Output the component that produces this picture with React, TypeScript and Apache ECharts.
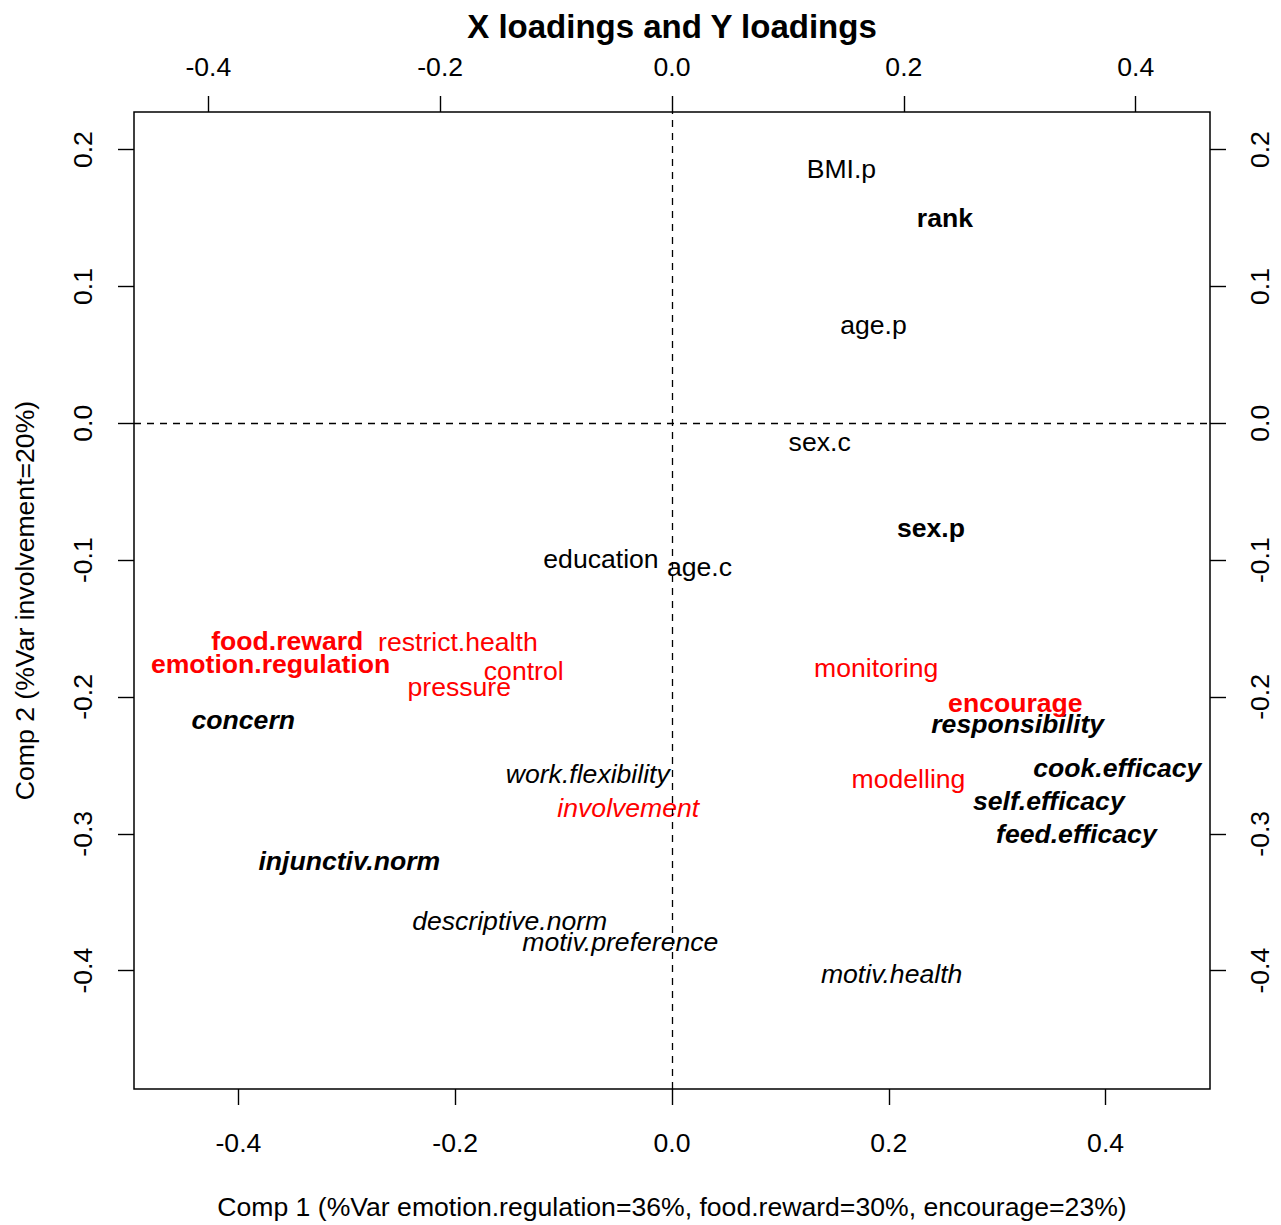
import React, { useEffect, useRef } from "react";
import * as echarts from "echarts";

// X-block variables (parent / child characteristics): loadings on components 1 and 2
const xVarNames = [
  "BMI.p", "rank", "age.p", "sex.c", "sex.p", "education", "age.c",
  "concern", "responsibility", "cook.efficacy", "self.efficacy", "feed.efficacy",
  "work.flexibility", "injunctiv.norm", "descriptive.norm", "motiv.preference", "motiv.health",
];
const xComp1 = [
  0.1563, 0.2518, 0.1858, 0.1362, 0.2389, -0.0655, 0.0254,
  -0.3955, 0.3189, 0.4108, 0.3476, 0.3730,
  -0.0777, -0.2977, -0.1497, -0.0477, 0.2026,
];
const xComp2 = [
  0.1871, 0.1514, 0.0734, -0.0122, -0.0747, -0.0977, -0.1034,
  -0.2157, -0.2184, -0.2505, -0.2748, -0.2990,
  -0.2548, -0.3185, -0.3623, -0.3774, -0.4007,
];

// Y-block variables (feeding practices): loadings on components 1 and 2
const yVarNames = [
  "food.reward", "restrict.health", "emotion.regulation", "control", "pressure",
  "monitoring", "encourage", "modelling", "involvement",
];
const yComp1 = [-0.3319, -0.1847, -0.3463, -0.1279, -0.1835, 0.1761, 0.2962, 0.2040, -0.0377];
const yComp2 = [-0.1575, -0.1586, -0.1746, -0.1799, -0.1916, -0.1775, -0.2026, -0.2582, -0.2796];

// Tick values of the four axes
const xTicks = [-0.4, -0.2, 0.0, 0.2, 0.4];
const yTicks = [-0.4, -0.3, -0.2, -0.1, 0.0, 0.1, 0.2];

const titleText = "X loadings and Y loadings";
const xAxisTitle = "Comp 1 (%Var emotion.regulation=36%, food.reward=30%, encourage=23%)";
const yAxisTitle = "Comp 2 (%Var involvement=20%)";

// Font face used for each variable label
const FACE: Record<string, "plain" | "bold" | "italic" | "bolditalic"> = {
  "BMI.p": "plain", "age.p": "plain", "sex.c": "plain", education: "plain", "age.c": "plain",
  rank: "bold", "sex.p": "bold",
  concern: "bolditalic", "injunctiv.norm": "bolditalic", responsibility: "bolditalic",
  "cook.efficacy": "bolditalic", "self.efficacy": "bolditalic", "feed.efficacy": "bolditalic",
  "work.flexibility": "italic", "descriptive.norm": "italic", "motiv.preference": "italic",
  "motiv.health": "italic",
  "food.reward": "bold", "emotion.regulation": "bold", encourage: "bold",
  "restrict.health": "plain", control: "plain", pressure: "plain", monitoring: "plain",
  modelling: "plain", involvement: "italic",
};

const FONT = "'Liberation Sans', Arial, Helvetica, sans-serif";
const FS = 26.6;

function faceStyle(name: string) {
  const f = FACE[name] || "plain";
  return {
    fontWeight: f === "bold" || f === "bolditalic" ? "bold" : "normal",
    fontStyle: f === "italic" || f === "bolditalic" ? "italic" : "normal",
  };
}

function points(names: string[], c1: number[], c2: number[]) {
  return names.map((n, i) => ({
    name: n,
    value: [c1[i], c2[i]],
    label: faceStyle(n),
  }));
}

const fmt = (v: number) => v.toFixed(1);

function tickAxis(values: number[], margin: number, rotate: number) {
  return {
    axisLine: { show: false, onZero: false },
    splitLine: { show: false },
    axisTick: {
      show: true,
      inside: false,
      length: 16,
      customValues: values,
      lineStyle: { color: "#000", width: 1.4 },
    },
    axisLabel: {
      show: true,
      customValues: values,
      margin,
      rotate,
      fontSize: FS,
      fontFamily: FONT,
      color: "#000",
      formatter: fmt,
    },
  };
}

export default function App() {
  const ref = useRef<HTMLDivElement>(null);

  useEffect(() => {
    if (!ref.current) return;
    const chart = echarts.init(ref.current, undefined, { renderer: "svg" });

    // Text centred on each loading, nudged so the glyph middle sits on the point
    const labelBase = {
      show: true,
      position: "inside",
      offset: [0, 2],
      formatter: "{b}",
      fontSize: FS,
      fontFamily: FONT,
      textBorderWidth: 0,
    };

    chart.setOption({
      animation: false,
      backgroundColor: "#fff",
      grid: {
        left: 134,
        top: 112,
        width: 1076,
        height: 979,
        show: true,
        borderColor: "#000",
        borderWidth: 1.5,
        containLabel: false,
      },
      xAxis: [
        {
          type: "value",
          position: "bottom",
          min: -0.4963,
          max: 0.4963,
          name: xAxisTitle,
          nameLocation: "middle",
          nameGap: 104,
          nameTextStyle: { fontSize: FS, fontFamily: FONT, color: "#000" },
          ...tickAxis(xTicks, 40, 0),
        },
        {
          type: "value",
          position: "top",
          min: -0.4641,
          max: 0.4641,
          ...tickAxis(xTicks, 32, 0),
        },
      ],
      yAxis: [
        {
          type: "value",
          position: "left",
          min: -0.4865,
          max: 0.2275,
          name: yAxisTitle,
          nameLocation: "middle",
          nameGap: 96,
          nameTextStyle: { fontSize: FS, fontFamily: FONT, color: "#000" },
          ...tickAxis(yTicks, 38, 90),
        },
        {
          type: "value",
          position: "right",
          min: -0.4865,
          max: 0.2275,
          ...tickAxis(yTicks, 36, 90),
        },
      ],
      graphic: [
        {
          type: "text",
          x: 672,
          y: 26,
          style: {
            text: titleText,
            fontSize: 33,
            fontWeight: "bold",
            fontFamily: FONT,
            fill: "#000",
            align: "center",
            verticalAlign: "middle",
          },
        },
      ],
      series: [
        {
          name: "X loadings",
          type: "scatter",
          xAxisIndex: 0,
          yAxisIndex: 0,
          symbolSize: 1,
          itemStyle: { color: "rgba(0,0,0,0)", opacity: 1 },
          label: { ...labelBase, color: "#000" },
          emphasis: { disabled: true },
          data: points(xVarNames, xComp1, xComp2),
          markLine: {
            silent: true,
            symbol: "none",
            label: { show: false },
            lineStyle: { color: "#000", type: [7, 6], width: 1.3, opacity: 1 },
            data: [{ xAxis: 0 }, { yAxis: 0 }],
          },
        },
        {
          name: "Y loadings",
          type: "scatter",
          xAxisIndex: 1,
          yAxisIndex: 1,
          symbolSize: 1,
          itemStyle: { color: "rgba(0,0,0,0)", opacity: 1 },
          label: { ...labelBase, color: "#ff0000" },
          emphasis: { disabled: true },
          data: points(yVarNames, yComp1, yComp2),
        },
      ],
    });

    return () => chart.dispose();
  }, []);

  return (
    <div
      ref={ref}
      style={{ position: "absolute", left: 0, top: 0, width: 1281, height: 1225 }}
    />
  );
}
